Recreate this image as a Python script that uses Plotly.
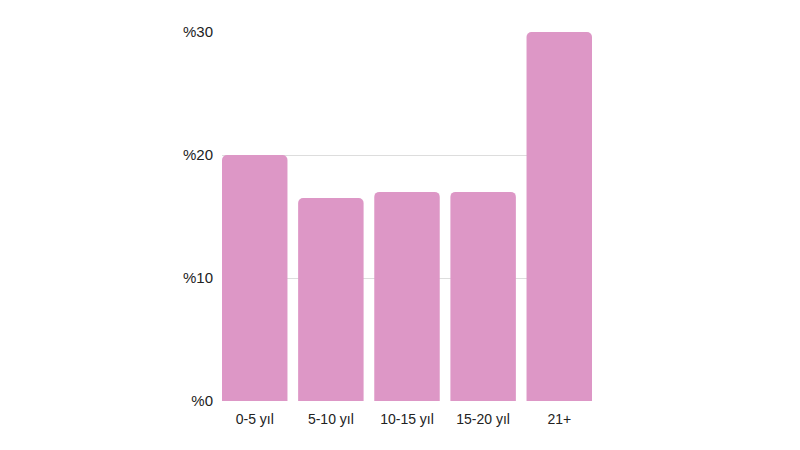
import plotly.graph_objects as go

kategoriler = ['0-5 yıl', '5-10 yıl', '10-15 yıl', '15-20 yıl', '21+']
oranlar = [20, 16.5, 17, 17, 30]
y_ticks = [0, 10, 20, 30]
y_etiketler = ['%' + str(v) for v in y_ticks]

bosluk = 0.14

fig = go.Figure()
fig.add_trace(go.Bar(x=kategoriler, y=oranlar, marker_color='#dd97c6',
                     marker_line_width=0))

# sayfa 8px kaydırıyor, kenar boşlukları ona göre
fig.update_layout(
    width=800, height=450,
    margin=dict(l=214, r=216, t=24, b=57),
    plot_bgcolor='white', paper_bgcolor='white',
    bargap=bosluk, barcornerradius=5,
    font=dict(family='Liberation Sans, Arial', size=15, color='#222'),
    showlegend=False,
)
fig.update_yaxes(range=[0, 30], tickvals=y_ticks, ticktext=y_etiketler,
                 showgrid=True, gridcolor='#dddddd', zeroline=False,
                 ticklabelstandoff=8, tickfont=dict(size=15))
# çubuklar kenardan kenara
fig.update_xaxes(range=[-0.5 + bosluk / 2, len(kategoriler) - 0.5 - bosluk / 2],
                 showgrid=False, showline=False, tickfont=dict(size=14),
                 ticklabelstandoff=8)

fig.write_html("out.html")
